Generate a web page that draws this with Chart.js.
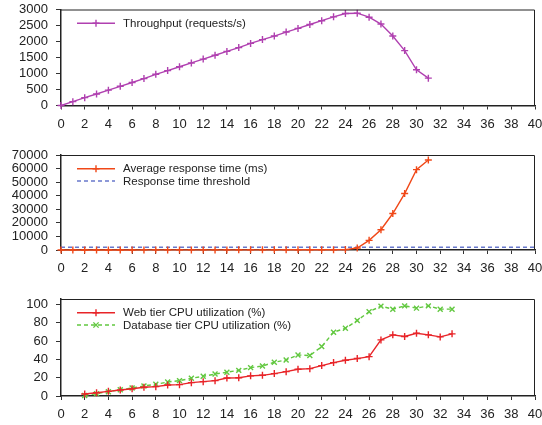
<!DOCTYPE html>
<html>
<head>
<meta charset="utf-8">
<script src="https://cdn.jsdelivr.net/npm/chart.js@4"></script>
<style>
  body{margin:0;background:#fff;}
  #wrap{position:relative;width:542px;height:425px;overflow:hidden;}
  canvas{position:absolute;left:0;}
</style>
</head>
<body>
<div id="wrap">
  <canvas id="c1" width="542" height="140" style="top:0"></canvas>
  <canvas id="c2" width="542" height="145" style="top:140px"></canvas>
  <canvas id="c3" width="542" height="140" style="top:285px"></canvas>
</div>
<script>
// ================= DATA =================
const throughputX = [0,1,2,3,4,5,6,7,8,9,10,11,12,13,14,15,16,17,18,19,20,21,22,23,24,25,26,27,28,29,30,31];
const throughputY = [0,120,245,360,480,600,720,840,975,1090,1210,1330,1450,1570,1690,1810,1940,2060,2170,2295,2410,2530,2650,2770,2875,2885,2760,2545,2170,1715,1115,855];

const responseX = [0,1,2,3,4,5,6,7,8,9,10,11,12,13,14,15,16,17,18,19,20,21,22,23,24,25,26,27,28,29,30,31];
const responseY = [20,30,30,40,40,50,50,60,60,70,70,80,80,90,90,100,100,110,120,130,140,150,170,200,300,1500,7100,14900,26900,41600,59200,66300];
const thresholdX = [0,40];
const thresholdY = [2000,2000];

const cpuX = [2,3,4,5,6,7,8,9,10,11,12,13,14,15,16,17,18,19,20,21,22,23,24,25,26,27,28,29,30,31,32,33];
const webCpu = [2.2,3.6,5.1,6.6,8,9.5,10.2,12,12.4,14.6,15.7,16.8,19.7,20,22,22.6,24.5,26.6,29.2,29.9,33.2,36.5,39,40.9,43,61.3,66.8,65,68.6,66.8,64.6,67.9];
const dbCpu = [0.5,2.6,4.7,6.9,8.8,11,12.8,15.3,16.8,19.3,21.5,24,26,28,31,32.8,36.9,39.4,44.9,44.2,54,69.7,74,82.5,92,98.2,94.9,98.5,96,98.5,94.9,94.9];

const xTicks = [0,2,4,6,8,10,12,14,16,18,20,22,24,26,28,30,32,34,36,38,40];
const throughputTicks = [0,500,1000,1500,2000,2500,3000];
const responseTicks = [0,10000,20000,30000,40000,50000,60000,70000];
const cpuTicks = [0,20,40,60,80,100];

const pts = (xs, ys) => xs.map((x,i) => ({x:x, y:ys[i]}));

// ================= PLUGINS =================
const framePlugin = {
    id:'frame',
    afterDraw(chart){
        const a = chart.chartArea, ctx = chart.ctx;
        ctx.save();
        ctx.strokeStyle = '#222';
        ctx.lineWidth = 1;
        ctx.beginPath();
        ctx.moveTo(a.left, a.top+0.5);
        ctx.lineTo(a.right-0.5, a.top+0.5);
        ctx.lineTo(a.right-0.5, a.bottom);
        ctx.stroke();
        ctx.restore();
    }
};

const legendPlugin = {
    id:'gpLegend',
    afterDraw(chart){
        const a = chart.chartArea, ctx = chart.ctx;
        ctx.save();
        ctx.font = '11.5px "Liberation Sans", Arial, sans-serif';
        ctx.textBaseline = 'middle';
        chart.data.datasets.forEach((ds,i) => {
            const y = a.top + 13.8 + i*12.2;
            const x0 = a.left + 16, x1 = a.left + 54, xm = (x0+x1)/2;
            ctx.strokeStyle = ds.borderColor;
            ctx.lineWidth = ds.borderWidth;
            ctx.setLineDash(ds.borderDash || []);
            ctx.beginPath();
            ctx.moveTo(x0, y); ctx.lineTo(x1, y);
            ctx.stroke();
            ctx.setLineDash([]);
            if(ds.pointRadius > 0){
                const r = ds.pointRadius;
                ctx.beginPath();
                if(ds.pointStyle === 'crossRot'){
                    ctx.moveTo(xm-r*0.75, y-r*0.75); ctx.lineTo(xm+r*0.75, y+r*0.75);
                    ctx.moveTo(xm-r*0.75, y+r*0.75); ctx.lineTo(xm+r*0.75, y-r*0.75);
                } else {
                    ctx.moveTo(xm-r, y); ctx.lineTo(xm+r, y);
                    ctx.moveTo(xm, y-r); ctx.lineTo(xm, y+r);
                }
                ctx.stroke();
            }
            ctx.fillStyle = '#222';
            ctx.fillText(ds.label, a.left + 62, y + 0.5);
        });
        ctx.restore();
    }
};

// ================= CHART =================
function makeChart(id, datasets, yMax, yTicks, pad, xHeight){
    const font = {family:'"Liberation Sans", Arial, sans-serif', size:13};
    return new Chart(document.getElementById(id).getContext('2d'), {
        type:'line',
        data:{datasets},
        options:{
            responsive:false,
            animation:false,
            devicePixelRatio:1,
            layout:{padding:pad},
            plugins:{legend:{display:false}, tooltip:{enabled:false}},
            scales:{
                x:{
                    type:'linear', min:0, max:40,
                    afterBuildTicks: s => { s.ticks = xTicks.map(v => ({value:v})); },
                    afterFit: s => { s.height = xHeight; s.paddingLeft = 0; s.paddingRight = 0; },
                    ticks:{font, color:'#222', padding:7, maxRotation:0, autoSkip:false, callback:v => String(v)},
                    grid:{drawOnChartArea:false, drawTicks:true, tickLength:4, color:'#333', lineWidth:1},
                    border:{color:'#222', width:1.5}
                },
                y:{
                    min:0, max:yMax,
                    afterBuildTicks: s => { s.ticks = yTicks.map(v => ({value:v})); },
                    afterFit: s => { s.width = 61; s.paddingTop = 0; s.paddingBottom = 0; },
                    ticks:{font, color:'#222', padding:8, autoSkip:false, callback:v => String(v)},
                    grid:{drawOnChartArea:false, drawTicks:true, tickLength:5, color:'#333', lineWidth:1},
                    border:{color:'#222', width:1.5}
                }
            }
        },
        plugins:[framePlugin, legendPlugin]
    });
}

function lineSet(label, data, color, style, dash){
    return {
        label, data,
        borderColor:color, backgroundColor:color,
        borderWidth:1.4, borderDash:dash || [],
        pointStyle:style || 'cross', pointRadius:style === false ? 0 : 3.5,
        pointBorderColor:color, pointBorderWidth:1.4,
        tension:0, clip:false, fill:false
    };
}

makeChart('c1',
    [lineSet('Throughput (requests/s)', pts(throughputX, throughputY), '#b040b0', 'cross')],
    3000, throughputTicks,
    {left:0, right:7, top:9.5, bottom:4}, 30.5);

makeChart('c2',
    [lineSet('Average response time (ms)', pts(responseX, responseY), '#f04818', 'cross'),
     lineSet('Response time threshold', pts(thresholdX, thresholdY), '#6878cc', false, [4,3])],
    70000, responseTicks,
    {left:0, right:7, top:15, bottom:4}, 31);

makeChart('c3',
    [lineSet('Web tier CPU utilization (%)', pts(cpuX, webCpu), '#e82428', 'cross'),
     lineSet('Database tier CPU utilization (%)', pts(cpuX, dbCpu), '#62c840', 'crossRot', [4,3])],
    106, cpuTicks,
    {left:0, right:7, top:14, bottom:0}, 29);
</script>
</body>
</html>
